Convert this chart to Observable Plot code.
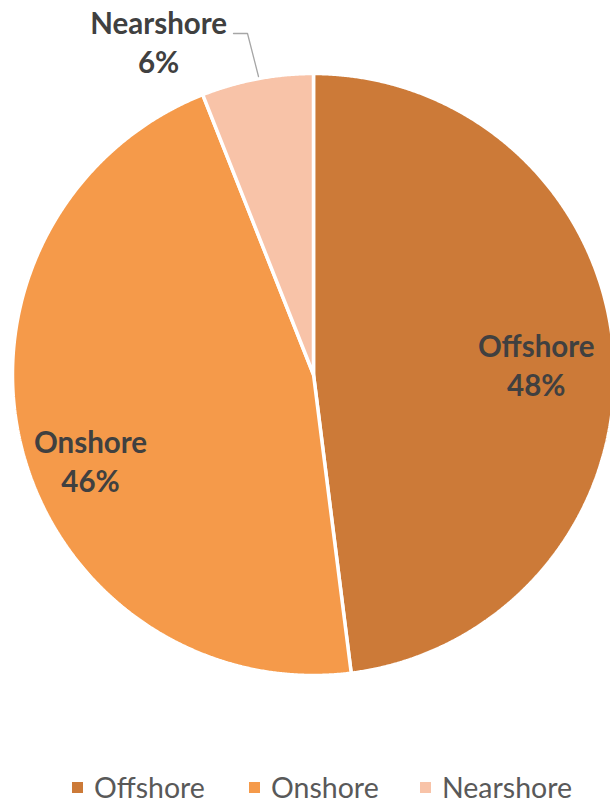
<!DOCTYPE html>
<html>
<head>
<meta charset="utf-8">
<script src="https://cdn.jsdelivr.net/npm/d3@7"></script>
<script src="https://cdn.jsdelivr.net/npm/@observablehq/plot@0.6"></script>
<style>
  html, body { margin: 0; padding: 0; background: #fff; }
  #chart { width: 610px; }
  .legend { position: relative; height: 43px;
    font-family: Lato, "Open Sans", sans-serif; font-size: 28.5px; color: #595959; }
  .legend .item { display: flex; align-items: center; position: absolute; top: 12px; line-height: 30px; }
  .legend .sw { width: 11px; height: 11px; margin-right: 11px; }
</style>
</head>
<body>
<div id="chart"></div>
<script>
// ---- data ----
const categories = ["Offshore", "Onshore", "Nearshore"];
const shares = [48, 46, 6];
const colors = ["#CC7A38", "#F59A4A", "#F8C3A8"];

// ---- layout (pixels) ----
const W = 610, H = 760, CX = 313, CY = 374, R = 301;
// label anchor positions: (angle in degrees clockwise from top, radius fraction)
const labelPlacement = [[87.2, 0.741], [249.1, 0.793], [335.1, 1.222]];
const legendX = [72, 249, 420];

const total = d3.sum(shares);
let acc = 0;
const slices = categories.map((c, i) => {
  const a0 = acc / total * 360;
  acc += shares[i];
  const a1 = acc / total * 360;
  return {name: c, value: shares[i], a0, a1, color: colors[i]};
});
const rad = d => d * Math.PI / 180;

function polygon(s) {
  const pts = [{x: 0, y: 0}];
  const n = Math.max(4, Math.ceil((s.a1 - s.a0) / 0.25));
  for (let k = 0; k <= n; k++) {
    const a = rad(s.a0 + (s.a1 - s.a0) * k / n);
    pts.push({x: Math.sin(a), y: Math.cos(a)});
  }
  return pts;
}

const labels = slices.map((s, i) => {
  const [ang, r] = labelPlacement[i];
  return {x: r * Math.sin(rad(ang)), y: r * Math.cos(rad(ang)), text: `${s.name}\n${s.value}%`};
});

// leader line for the Nearshore label (pixel points converted to data units)
const toData = ([px, py]) => ({x: (px - CX) / R, y: (CY - py) / R});
const leader = [[233, 33], [247, 33], [258, 76]].map(toData);

const plot = Plot.plot({
  width: W, height: H,
  marginTop: 0, marginBottom: 0, marginLeft: 0, marginRight: 0,
  x: {domain: [(0 - CX) / R, (W - CX) / R], axis: null},
  y: {domain: [(CY - H) / R, CY / R], axis: null},
  style: {background: "white", overflow: "visible"},
  marks: [
    ...slices.map(s => Plot.line(polygon(s), {
      x: "x", y: "y", fill: s.color, stroke: "white", strokeWidth: 3.5,
      strokeLinejoin: "miter", curve: "linear-closed"
    })),
    Plot.line(leader, {x: "x", y: "y", stroke: "#A6A6A6", strokeWidth: 1.3}),
    Plot.text(labels, {
      x: "x", y: "y", text: "text", fill: "#404040",
      fontSize: 29.5, fontWeight: "bold", fontFamily: "Lato, 'Open Sans', sans-serif",
      lineHeight: 1.33, textAnchor: "middle"
    })
  ]
});
document.getElementById("chart").appendChild(plot);

const legend = document.createElement("div");
legend.className = "legend";
slices.forEach((s, i) => {
  const item = document.createElement("div");
  item.className = "item";
  item.style.left = legendX[i] + "px";
  const sw = document.createElement("span");
  sw.className = "sw";
  sw.style.background = s.color;
  const t = document.createElement("span");
  t.textContent = s.name;
  item.appendChild(sw);
  item.appendChild(t);
  legend.appendChild(item);
});
document.getElementById("chart").appendChild(legend);
</script>
</body>
</html>
